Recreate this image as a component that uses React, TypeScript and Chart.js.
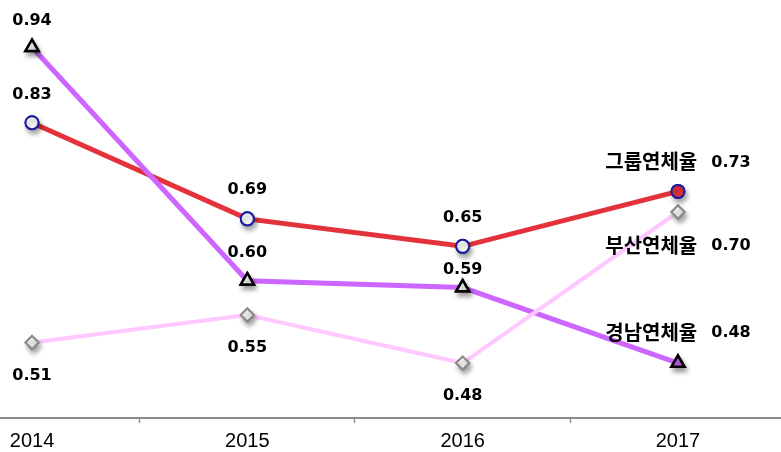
import React, { useEffect, useRef } from "react";
import { Chart, registerables } from "chart.js";

Chart.register(...registerables);

const years = ["2014", "2015", "2016", "2017"];
const groupRate = [0.83, 0.69, 0.65, 0.73];
const busanRate = [0.51, 0.55, 0.48, 0.7];
const gyeongnamRate = [0.94, 0.6, 0.59, 0.48];
const seriesNames = ["그룹연체율", "부산연체율", "경남연체율"];
const tickValues = [0, 0.5, 1, 1.5, 2, 2.5, 3];

const toPoints = (vals: number[]) => vals.map((v, i) => ({ x: i, y: v }));

// label placement per series key (pixel offsets from the point)
const labelOffsets: Record<string, number[]> = {
  group: [-28, -29, -28, -30],
  busan: [33, 33, 33, 33],
  gyeongnam: [-26, -28, -18, -31],
};

const numFont = "bold 16px 'DejaVu Sans', Verdana, sans-serif";
const nameFont = "bold 20px 'Noto Sans CJK KR', sans-serif";

const overlayPlugin = {
  id: "overlay",
  afterDatasetsDraw(chart: any) {
    const ctx = chart.ctx as CanvasRenderingContext2D;
    chart.data.datasets.forEach((_ds: any, di: number) => {
      const meta = chart.getDatasetMeta(di);
      meta.data.forEach((el: any) => {
        ctx.save();
        ctx.shadowColor = "rgba(0,0,0,0.35)";
        ctx.shadowBlur = 5;
        ctx.shadowOffsetX = 2;
        ctx.shadowOffsetY = 4;
        el.draw(ctx, chart.chartArea);
        ctx.restore();
      });
    });
    chart.data.datasets.forEach((ds: any, di: number) => {
      const meta = chart.getDatasetMeta(di);
      const offs = labelOffsets[ds.key];
      meta.data.forEach((el: any, i: number) => {
        const v = ds.data[i].y as number;
        const txt = v.toFixed(2);
        const y = el.y + offs[i];
        ctx.save();
        ctx.fillStyle = "#000";
        ctx.textBaseline = "middle";
        if (i === meta.data.length - 1) {
          ctx.font = nameFont;
          const wn = ctx.measureText(ds.label).width;
          ctx.font = numFont;
          const wv = ctx.measureText(txt).width;
          const gap = 14;
          const start = el.x - (wn + gap + wv) / 2;
          ctx.textAlign = "left";
          ctx.font = nameFont;
          ctx.fillText(ds.label, start, y);
          ctx.font = numFont;
          ctx.fillText(txt, start + wn + gap, y + 1);
        } else {
          ctx.font = numFont;
          ctx.textAlign = "center";
          ctx.fillText(txt, el.x, y);
        }
        ctx.restore();
      });
    });
  },
};

export default function App() {
  const canvasRef = useRef<HTMLCanvasElement | null>(null);

  useEffect(() => {
    if (!canvasRef.current) return;
    const chart = new Chart(canvasRef.current, {
      type: "line",
      data: {
        datasets: [
          {
            key: "busan",
            label: seriesNames[1],
            data: toPoints(busanRate),
            borderColor: "#FFC8FF",
            borderWidth: 4,
            pointStyle: "rectRot",
            pointRadius: 6.5,
            pointBorderWidth: 2,
            pointBorderColor: "#8C8C8C",
            pointBackgroundColor: "#FFFFFF",
            tension: 0,
          } as any,
          {
            key: "gyeongnam",
            label: seriesNames[2],
            data: toPoints(gyeongnamRate),
            borderColor: "#CC66FF",
            borderWidth: 5,
            pointStyle: "triangle",
            pointRadius: 7.5,
            pointBorderWidth: 2.5,
            pointBorderColor: "#000000",
            pointBackgroundColor: ["#FFFFFF", "#FFFFFF", "#FFFFFF", "#CC66FF"],
            tension: 0,
          } as any,
          {
            key: "group",
            label: seriesNames[0],
            data: toPoints(groupRate),
            borderColor: "#E3323A",
            borderWidth: 5,
            pointStyle: "circle",
            pointRadius: 6.5,
            pointBorderWidth: 2,
            pointBorderColor: "#1E1EA0",
            pointBackgroundColor: ["#FFFFFF", "#FFFFFF", "#FFFFFF", "#E3323A"],
            tension: 0,
          } as any,
        ],
      },
      options: {
        animation: false,
        responsive: true,
        maintainAspectRatio: false,
        layout: { autoPadding: false, padding: { top: 6, left: 0, right: 0, bottom: -7 } },
        plugins: {
          legend: { display: false },
          tooltip: { enabled: false },
        },
        scales: {
          x: {
            type: "linear",
            min: -32 / 215.3,
            max: 3 + 103 / 215.3,
            afterBuildTicks: (scale: any) => {
              scale.ticks = tickValues.map((v) => ({ value: v }));
            },
            ticks: {
              autoSkip: false,
              maxRotation: 0,
              padding: 6,
              color: "#000",
              font: { family: "'Liberation Sans', Arial, sans-serif", size: 20 },
              callback: (v: any) => (Number.isInteger(v) ? years[v] : ""),
            },
            grid: {
              drawOnChartArea: false,
              drawTicks: true,
              tickLength: 5,
              tickWidth: 1.5,
              tickColor: (c: any) =>
                c.tick && Number.isInteger(c.tick.value) ? "rgba(0,0,0,0)" : "#8C8C8C",
            },
            border: { display: true, color: "#8C8C8C", width: 2 },
          },
          y: {
            display: false,
            min: 0.4,
            max: 1.0,
          },
        },
      },
      plugins: [overlayPlugin],
    } as any);
    return () => chart.destroy();
  }, []);

  return (
    <div style={{ position: "fixed", left: 0, top: 0, width: 781, height: 452, background: "#fff" }}>
      <canvas ref={canvasRef} />
    </div>
  );
}
